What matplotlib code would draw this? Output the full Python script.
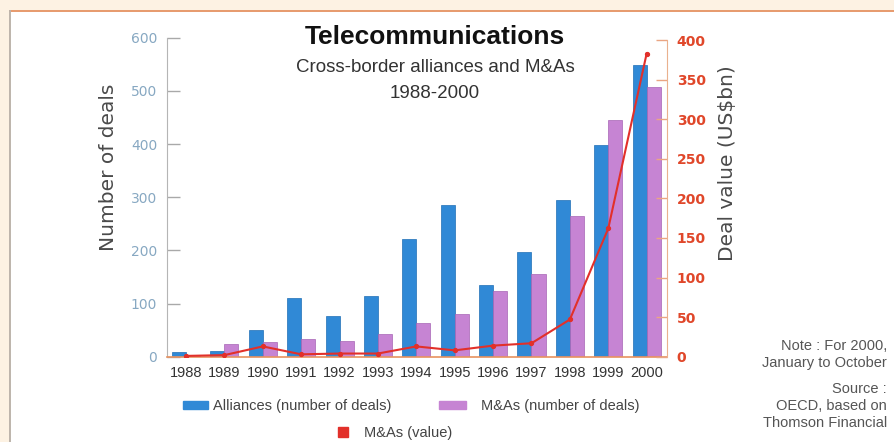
import matplotlib
matplotlib.use("Agg")
import matplotlib.pyplot as plt
from matplotlib.patches import Rectangle, Patch
from matplotlib.lines import Line2D
import numpy as np

# Data
years = ["1988", "1989", "1990", "1991", "1992", "1993", "1994",
         "1995", "1996", "1997", "1998", "1999", "2000"]
alliances = [9, 11, 51, 111, 76, 115, 221, 285, 135, 196, 295, 398, 548]
mna_deals = [1, 24, 27, 33, 29, 43, 64, 80, 124, 155, 264, 445, 507]
mna_value = [1, 2, 13, 3, 4, 4, 13, 8, 14, 17, 47, 162, 383]

left_ticks = [0, 100, 200, 300, 400, 500, 600]
right_ticks = [0, 50, 100, 150, 200, 250, 300, 350, 400]

BLUE = "#3089d6"
PURPLE = "#c684d3"
RED = "#e2302a"
LEFT_TXT = "#87a8c2"
RIGHT_TXT = "#e0472a"
SANS = "Liberation Sans"

W, H = 894, 442
fig = plt.figure(figsize=(W / 100, H / 100), dpi=100, facecolor="#fdf2e3")

# white panel with thin border on top and left
fig.patches.append(Rectangle((10 / W, -0.1), 1.2, 1.1 - 11 / H, transform=fig.transFigure,
                             facecolor="white", edgecolor="none", zorder=-10))
fig.add_artist(Line2D([10 / W, 1.05], [1 - 11 / H, 1 - 11 / H], transform=fig.transFigure,
                      color="#e79a6c", lw=1.4))
fig.add_artist(Line2D([10 / W, 10 / W], [-0.05, 1 - 11 / H], transform=fig.transFigure,
                      color="#bdb4ab", lw=1.4))

x0, x1 = 167 / W, 667 / W
y0, y1 = 1 - 356.7 / H, 1 - 37.7 / H
ax = fig.add_axes([x0, y0, x1 - x0, y1 - y0])
ax.set_facecolor("none")

x = np.arange(len(years))
w = 0.365
b1 = ax.bar(x - w / 2, alliances, w, color=BLUE, edgecolor="#1f6fb5", linewidth=0.5,
            label="Alliances (number of deals)")
b2 = ax.bar(x + w / 2, mna_deals, w, color=PURPLE, edgecolor="#a765b5", linewidth=0.5,
            label="M&As (number of deals)")

ax.set_xlim(-0.495, 12.53)
ax.set_ylim(0, 600)
ax.set_yticks(left_ticks)
ax.set_xticks(x)
ax.set_xticklabels(years, fontfamily=SANS, fontsize=10.5, color="#333333")
ax.tick_params(axis="x", length=0, pad=7)
ax.tick_params(axis="y", direction="in", length=9.5, width=1, color="#a9a9a9",
               labelcolor=LEFT_TXT, labelsize=10, pad=7)
for s in ("top", "right"):
    ax.spines[s].set_visible(False)
ax.spines["left"].set_color("#b5b5b5")
ax.spines["bottom"].set_color("#e8925f")
ax.spines["bottom"].set_linewidth(1.2)

ax2 = ax.twinx()
ax2.set_ylim(0, 403)
ax2.set_yticks(right_ticks)
ln, = ax2.plot(x, mna_value, color=RED, lw=1.5, marker="o", markersize=2.8,
               label="M&As (value)", zorder=5)
for s in ("top", "left", "bottom"):
    ax2.spines[s].set_visible(False)
ax2.spines["right"].set_color("#eab18e")
ax2.spines["right"].set_bounds(0, 400)
ax2.tick_params(axis="y", direction="in", length=8, width=1, color="#eaa583",
                labelcolor=RIGHT_TXT, labelsize=10, pad=7)
for t in ax2.get_yticklabels():
    t.set_fontweight("bold")

# axis titles
fig.text(108 / W, 1 - 167 / H, "Number of deals", rotation=90, ha="center", va="center",
         fontsize=14.5, color="#4a4a4a")
fig.text(728 / W, 1 - 163 / H, "Deal value (US$bn)", rotation=90, ha="center", va="center",
         fontsize=14.5, color="#4a4a4a")

# titles
fig.text(435 / W, 1 - 37 / H, "Telecommunications", ha="center", va="center",
         fontfamily=SANS, fontsize=19, fontweight="bold", color="#111111")
fig.text(435 / W, 1 - 67 / H, "Cross-border alliances and M&As", ha="center", va="center",
         fontfamily=SANS, fontsize=13.5, color="#333333")
fig.text(435 / W, 1 - 94 / H, "1988-2000", ha="center", va="center",
         fontfamily=SANS, fontsize=13.5, color="#333333")

# legend
leg_kw = dict(frameon=False, borderpad=0, borderaxespad=0, handleheight=0.5,
              prop={"family": SANS, "size": 10.5}, labelcolor="#444444", loc="center left")
l1 = fig.legend([Patch(color=BLUE)], [b1.get_label()], bbox_to_anchor=(183 / W, 1 - 406 / H),
                handlelength=1.7, handletextpad=0.35, **leg_kw)
l2 = fig.legend([Patch(color=PURPLE)], [b2.get_label()], bbox_to_anchor=(439 / W, 1 - 406 / H),
                handlelength=1.85, handletextpad=1.0, **leg_kw)
l3 = fig.legend([Line2D([], [], color=RED, marker="s", markersize=7, linestyle="none")],
                [ln.get_label()], bbox_to_anchor=(336 / W, 1 - 433 / H),
                handlelength=1.0, handletextpad=0.9, **leg_kw)

# notes
notes = [("Note : For 2000,", 346), ("January to October", 363), ("Source :", 389),
         ("OECD, based on", 406), ("Thomson Financial", 423)]
for txt, yy in notes:
    fig.text(887 / W, 1 - yy / H, txt, ha="right", va="center", fontfamily=SANS,
             fontsize=10.5, color="#555555")

fig.savefig("out.png", dpi=100, facecolor=fig.get_facecolor())
